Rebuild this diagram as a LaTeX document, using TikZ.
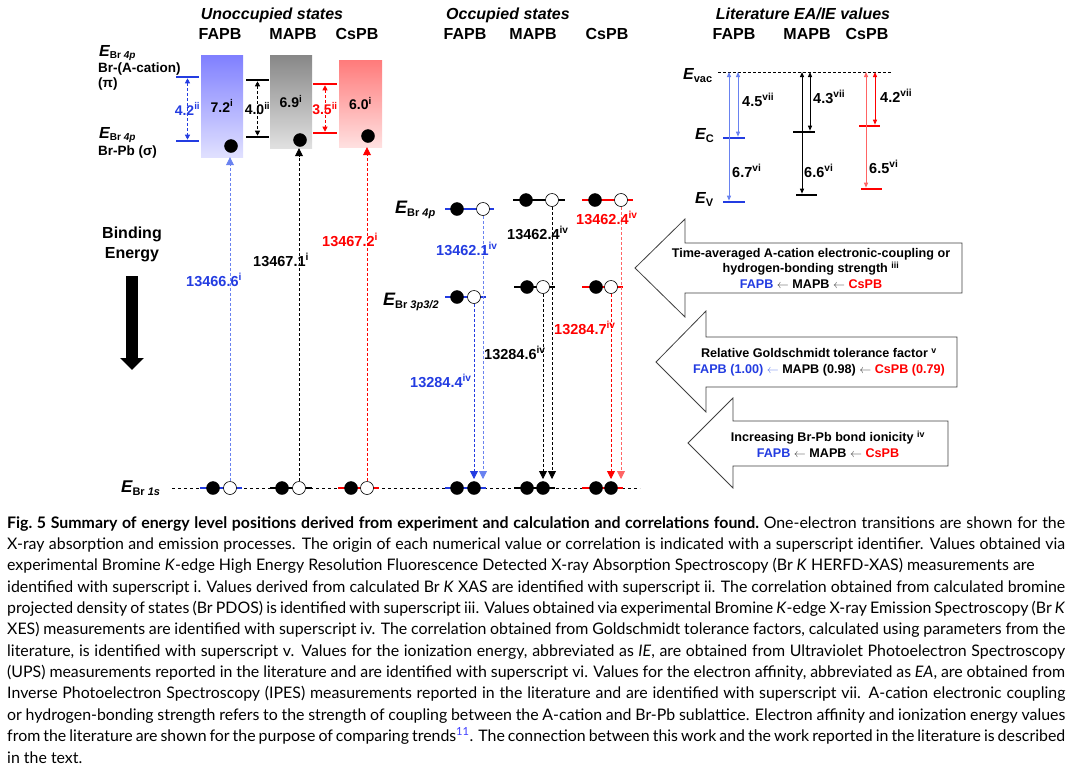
\documentclass[tikz,border=0pt]{standalone}
\usepackage{fontspec}
\setmainfont{Liberation Sans}
\newfontfamily\capfont{Lato}
\usetikzlibrary{arrows.meta,positioning}

\definecolor{fablue}{RGB}{35,60,225}
\definecolor{falight}{RGB}{105,130,240}
\definecolor{csred}{RGB}{255,0,0}
\definecolor{cslight}{RGB}{255,100,100}
\definecolor{linkblue}{RGB}{60,60,255}

\newcommand{\Elab}[4][3.5pt]{{\fontsize{#2}{#2}\selectfont\bfseries\itshape E}\raisebox{-#1}{\fontsize{#3}{#3}\selectfont\bfseries #4}}

\begin{document}
\begin{tikzpicture}[x=1pt,y=-1pt,
  hd/.style={font=\fontsize{16}{18}\selectfont\bfseries, anchor=base, inner sep=0pt},
  lbl/.style={font=\fontsize{14.5}{16}\selectfont\bfseries, anchor=base west, inner sep=0pt},
  lev/.style={line width=2.6pt},
  elec/.style={circle, fill=black, draw=black, minimum size=13pt, inner sep=0pt},
  hole/.style={circle, fill=white, draw=black, line width=0.6pt, minimum size=13pt, inner sep=0pt},
  trans/.style={line width=0.8pt, dash pattern=on 3pt off 2pt, -{Triangle[length=8pt,width=8pt]}},
  gap/.style={line width=0.8pt, dash pattern=on 3pt off 2pt, {Triangle[length=5pt,width=5pt]}-{Triangle[length=5pt,width=5pt]}, shorten >=1.3pt, shorten <=1.3pt},
  lit/.style={line width=1pt, {Triangle[length=5pt,width=4pt]}-{Triangle[length=5pt,width=4pt]}, shorten >=1.3pt},
  ubox/.style={inner sep=0pt, font=\fontsize{14}{16}\selectfont\bfseries},
  barrow/.style={fill=white, draw=black!75, line width=0.8pt},
  btext/.style={align=center, font=\fontsize{12.6}{15.5}\selectfont\bfseries, inner sep=0pt},
  capl/.style={anchor=base west, inner sep=0pt, font=\capfont\fontsize{15.9}{20}\selectfont}
]
\useasboundingbox (0,0) rectangle (1078,774);

% headings
\node[hd, font=\fontsize{16}{18}\selectfont\bfseries\itshape] (hUn) at (272,19) {Unoccupied states};
\node[hd, font=\fontsize{16}{18}\selectfont\bfseries\itshape] (hOc) at (508,19) {Occupied states};
\node[hd, font=\fontsize{16}{18}\selectfont\bfseries\itshape] (hLi) at (803,19) {Literature EA/IE values};
\node[hd] (uFA) at (220,39) {FAPB};
\node[hd] (uMA) at (293,39) {MAPB};
\node[hd] (uCs) at (357,39) {CsPB};
\node[hd] (oFA) at (465,39) {FAPB};
\node[hd] (oMA) at (533,39) {MAPB};
\node[hd] (oCs) at (607,39) {CsPB};
\node[hd] (lFA) at (734,39) {FAPB};
\node[hd] (lMA) at (807,39) {MAPB};
\node[hd] (lCs) at (867,39) {CsPB};

% unoccupied states
\node[anchor=base west, inner sep=0pt] (eUp) at (99,56) {\Elab[2.5pt]{16}{10}{Br \textit{4p}}};
\node[lbl, font=\fontsize{13.5}{15}\selectfont\bfseries] (cUp) at (98,72) {Br-(A-cation)};
\node[lbl, font=\fontsize{13.5}{15}\selectfont\bfseries] (pUp) at (98,87) {(π)};
\node[anchor=base west, inner sep=0pt] (eLo) at (99,138) {\Elab[2.5pt]{16}{10}{Br \textit{4p}}};
\node[lbl, font=\fontsize{13.5}{15}\selectfont\bfseries] (cLo) at (98,155) {Br-Pb (σ)};

\node[ubox, top color=blue!50, bottom color=blue!12, minimum width=42pt, minimum height=102pt] (bFA) at (222,106) {7.2\textsuperscript{i}};
\node[ubox, top color=black!47, bottom color=black!12, minimum width=42pt, minimum height=93pt] (bMA) at (291,101.5) {6.9\textsuperscript{i}};
\node[ubox, top color=red!52, bottom color=red!12, minimum width=43pt, minimum height=87pt] (bCs) at (360.5,103.5) {6.0\textsuperscript{i}};
\node[elec] (bFAe) at (231,146) {};
\node[elec] (bMAe) at (300,140) {};
\node[elec] (bCse) at (368,136) {};

\draw[lev,fablue] (176,77) -- coordinate (gFAt) (199,77);
\draw[lev,fablue] (176,141) -- coordinate (gFAb) (199,141);
\draw[gap,fablue] (gFAt) -- node[ubox, text=fablue] (gFA) {4.2\textsuperscript{ii}} (gFAb);
\draw[lev] (246,80) -- coordinate (gMAt) (269,80);
\draw[lev] (246,137) -- coordinate (gMAb) (269,137);
\draw[gap] (gMAt) -- node[ubox] (gMA) {4.0\textsuperscript{ii}} (gMAb);
\draw[lev,csred] (313,84) -- coordinate (gCst) (337,84);
\draw[lev,csred] (313,133) -- coordinate (gCsb) (337,133);
\draw[gap,csred] (gCst) -- node[ubox, text=csred] (gCs) {3.5\textsuperscript{ii}} (gCsb);

% binding energy
\node[hd] (bind1) at (132,238) {Binding};
\node[hd] (bind2) at (132,258) {Energy};
\coordinate (bigA) at (132,276);
\coordinate (bigB) at (132,370);
\draw[line width=12pt, -{Triangle[length=12pt,width=23pt]}] (bigA) -- (bigB);

% Br 1s level
\node[anchor=base west, inner sep=0pt] (eOne) at (121,492) {\Elab{17}{11}{Br \textit{1s}}};
\coordinate (oneL) at (172,488);
\coordinate (oneR) at (640,488);
\draw[line width=0.6pt, dash pattern=on 3pt off 3pt] (oneL) -- (oneR);

\draw[lev,fablue] (200,488) -- (242,488);
\node[elec] (sFAe) at (213,488) {};
\node[hole] (sFAh) at (230,488) {};
\draw[lev] (270,488) -- (312,488);
\node[elec] (sMAe) at (282,488) {};
\node[hole] (sMAh) at (299,488) {};
\draw[lev,csred] (338,488) -- (379,488);
\node[elec] (sCse) at (351,488) {};
\node[hole] (sCsh) at (367,488) {};

\draw[trans,falight] (sFAh) -- (sFAh |- bFA.south);
\draw[trans] (sMAh) -- (sMAh |- bMA.south);
\draw[trans,csred] (sCsh) -- (sCsh |- bCs.south);

\node[lbl, text=fablue] (vFA) at (186,286) {13466.6\textsuperscript{i}};
\node[lbl] (vMA) at (253,266) {13467.1\textsuperscript{i}};
\node[lbl, text=csred] (vCs) at (322,246) {13467.2\textsuperscript{i}};

% occupied states
\node[anchor=base west, inner sep=0pt] (eFour) at (395,213) {\Elab{18}{11}{Br \textit{4p}}};
\node[anchor=base west, inner sep=0pt] (eThree) at (383,305) {\Elab{18}{11}{Br \textit{3p3/2}}};

\draw[lev,fablue] (445,209) -- (494,209);
\node[elec] (fFAe) at (457,209) {};
\node[hole] (fFAh) at (483,209) {};
\draw[lev] (513,200) -- (565,200);
\node[elec] (fMAe) at (526,200) {};
\node[hole] (fMAh) at (552,200) {};
\draw[lev,csred] (582,200) -- (633,200);
\node[elec] (fCse) at (595,200) {};
\node[hole] (fCsh) at (621,200) {};

\draw[lev,fablue] (445,297) -- (486,297);
\node[elec] (tFAe) at (457,297) {};
\node[hole] (tFAh) at (474,297) {};
\draw[lev] (514,287) -- (555,287);
\node[elec] (tMAe) at (527,287) {};
\node[hole] (tMAh) at (543,287) {};
\draw[lev,csred] (582,287) -- (623,287);
\node[elec] (tCse) at (596,287) {};
\node[hole] (tCsh) at (611,287) {};

\draw[lev,fablue] (445,488) -- (486,488);
\node[elec] (kFAa) at (457,488) {};
\node[elec] (kFAb) at (474,488) {};
\draw[lev] (514,488) -- (555,488);
\node[elec] (kMAa) at (527,488) {};
\node[elec] (kMAb) at (543,488) {};
\draw[lev,csred] (582,488) -- (623,488);
\node[elec] (kCsa) at (596,488) {};
\node[elec] (kCsb) at (611,488) {};

\coordinate (tipline) at (0,479);
\draw[trans,falight] (fFAh) -- (fFAh |- tipline);
\draw[trans,fablue] (tFAh) -- (tFAh |- tipline);
\draw[trans] (fMAh) -- (fMAh |- tipline);
\draw[trans] (tMAh) -- (tMAh |- tipline);
\draw[trans,cslight] (fCsh) -- (fCsh |- tipline);
\draw[trans,csred] (tCsh) -- (tCsh |- tipline);

\node[lbl, text=fablue] (wFA4) at (436,255) {13462.1\textsuperscript{iv}};
\node[lbl] (wMA4) at (507,239) {13462.4\textsuperscript{iv}};
\node[lbl, text=csred] (wCs4) at (576,224) {13462.4\textsuperscript{iv}};
\node[lbl, text=csred] (wCs3) at (554,334) {13284.7\textsuperscript{iv}};
\node[lbl] (wMA3) at (484,359) {13284.6\textsuperscript{iv}};
\node[lbl, text=fablue] (wFA3) at (410,387) {13284.4\textsuperscript{iv}};

% literature values
\coordinate (vac) at (0,72);
\draw[line width=0.6pt, dash pattern=on 3pt off 2pt] (718,72) -- (891,72);
\node[anchor=base west, inner sep=0pt] (eVac) at (683,79) {\Elab{16}{11}{vac}};
\node[anchor=base west, inner sep=0pt] (eC) at (695,139) {\Elab{16}{11}{C}};
\node[anchor=base west, inner sep=0pt] (eV) at (695,203) {\Elab{16}{11}{V}};

\draw[lev,fablue] (723,138) -- (745,138);
\draw[lev,fablue] (723,202) -- (745,202);
\draw[lev] (793,132) -- (815,132);
\draw[lev] (796,195) -- (817,195);
\draw[lev,csred] (859,126) -- (880,126);
\draw[lev,csred] (861,189) -- (882,189);

\coordinate (aFAc) at (738,138);
\coordinate (aFAv) at (729,202);
\coordinate (aMAc) at (810,132);
\coordinate (aMAv) at (802,195);
\coordinate (aCsc) at (875,126);
\coordinate (aCsv) at (866,189);
\draw[lit,falight] (aFAv |- vac) -- (aFAv);
\draw[lit,falight] (aFAc |- vac) -- (aFAc);
\draw[lit] (aMAv |- vac) -- (aMAv);
\draw[lit] (aMAc |- vac) -- (aMAc);
\draw[lit,cslight] (aCsv |- vac) -- (aCsv);
\draw[lit,csred] (aCsc |- vac) -- (aCsc);

\node[lbl] (nFAea) at (742,106) {4.5\textsuperscript{vii}};
\node[lbl] (nFAie) at (732,177) {6.7\textsuperscript{vi}};
\node[lbl] (nMAea) at (813,103) {4.3\textsuperscript{vii}};
\node[lbl] (nMAie) at (804,177) {6.6\textsuperscript{vi}};
\node[lbl] (nCsea) at (880,102) {4.2\textsuperscript{vii}};
\node[lbl] (nCsie) at (869,173) {6.5\textsuperscript{vi}};

% correlation arrows
\draw[barrow] (635,268) -- (685,219) -- (685,243) -- (962,243) -- (962,293) -- (685,293) -- (685,317) -- cycle;
\node[btext] (corrA) at (811,268) {Time-averaged A-cation electronic-coupling or\\hydrogen-bonding strength \textsuperscript{iii}\\{\color{fablue}FAPB} {\color{black!70}$\leftarrow$} MAPB {\color{black!70}$\leftarrow$} {\color{csred}CsPB}};
\draw[barrow] (656,362) -- (706,311) -- (706,337) -- (957,337) -- (957,387) -- (706,387) -- (706,412) -- cycle;
\node[btext] (corrB) at (819,362) {Relative Goldschmidt tolerance factor \textsuperscript{v}\\{\color{fablue}FAPB (1.00)} {\color{falight}$\leftarrow$} MAPB (0.98) {\color{black!70}$\leftarrow$} {\color{csred}CsPB (0.79)}};
\draw[barrow] (688,443) -- (733,398) -- (733,421) -- (948,421) -- (948,466) -- (733,466) -- (733,488) -- cycle;
\node[btext] (corrC) at (828,444) {Increasing Br-Pb bond ionicity \textsuperscript{iv}\\{\color{fablue}FAPB} {\color{black!70}$\leftarrow$} MAPB {\color{black!70}$\leftarrow$} {\color{csred}CsPB}};

% caption
\node[capl] (cap1) at (7,528) {\makebox[1058pt][s]{\bfseries Fig.~5 Summary of energy level positions derived from experiment and calculation and correlations found.\mdseries\ One-electron transitions are shown for the}};
\node[capl] (cap2) at (7,549.4) {\makebox[1058pt][s]{X-ray absorption and emission processes. The origin of each numerical value or correlation is indicated with a superscript identifier. Values obtained via}};
\node[capl] (cap3) at (7,570.7) {experimental Bromine \textit{K}-edge High Energy Resolution Fluorescence Detected X-ray Absorption Spectroscopy (Br \textit{K} HERFD-XAS) measurements are};
\node[capl] (cap4) at (7,592.1) {\makebox[1058pt][s]{identified with superscript i. Values derived from calculated Br \textit{K} XAS are identified with superscript ii. The correlation obtained from calculated bromine}};
\node[capl] (cap5) at (7,613.4) {\makebox[1058pt][s]{projected density of states (Br PDOS) is identified with superscript iii. Values obtained via experimental Bromine \textit{K}-edge X-ray Emission Spectroscopy (Br \textit{K}}};
\node[capl] (cap6) at (7,634.8) {\makebox[1058pt][s]{XES) measurements are identified with superscript iv. The correlation obtained from Goldschmidt tolerance factors, calculated using parameters from the}};
\node[capl] (cap7) at (7,656.2) {\makebox[1058pt][s]{literature, is identified with superscript v. Values for the ionization energy, abbreviated as \textit{IE}, are obtained from Ultraviolet Photoelectron Spectroscopy}};
\node[capl] (cap8) at (7,677.5) {\makebox[1058pt][s]{(UPS) measurements reported in the literature and are identified with superscript vi. Values for the electron affinity, abbreviated as \textit{EA}, are obtained from}};
\node[capl] (cap9) at (7,698.9) {\makebox[1058pt][s]{Inverse Photoelectron Spectroscopy (IPES) measurements reported in the literature and are identified with superscript vii. A-cation electronic coupling}};
\node[capl] (cap10) at (7,720.2) {\makebox[1058pt][s]{or hydrogen-bonding strength refers to the strength of coupling between the A-cation and Br-Pb sublattice. Electron affinity and ionization energy values}};
\node[capl] (cap11) at (7,741.6) {\makebox[1058pt][s]{from the literature are shown for the purpose of comparing trends\textsuperscript{\color{linkblue}11}. The connection between this work and the work reported in the literature is described}};
\node[capl] (cap12) at (7,763) {in the text.};
\end{tikzpicture}
\end{document}
